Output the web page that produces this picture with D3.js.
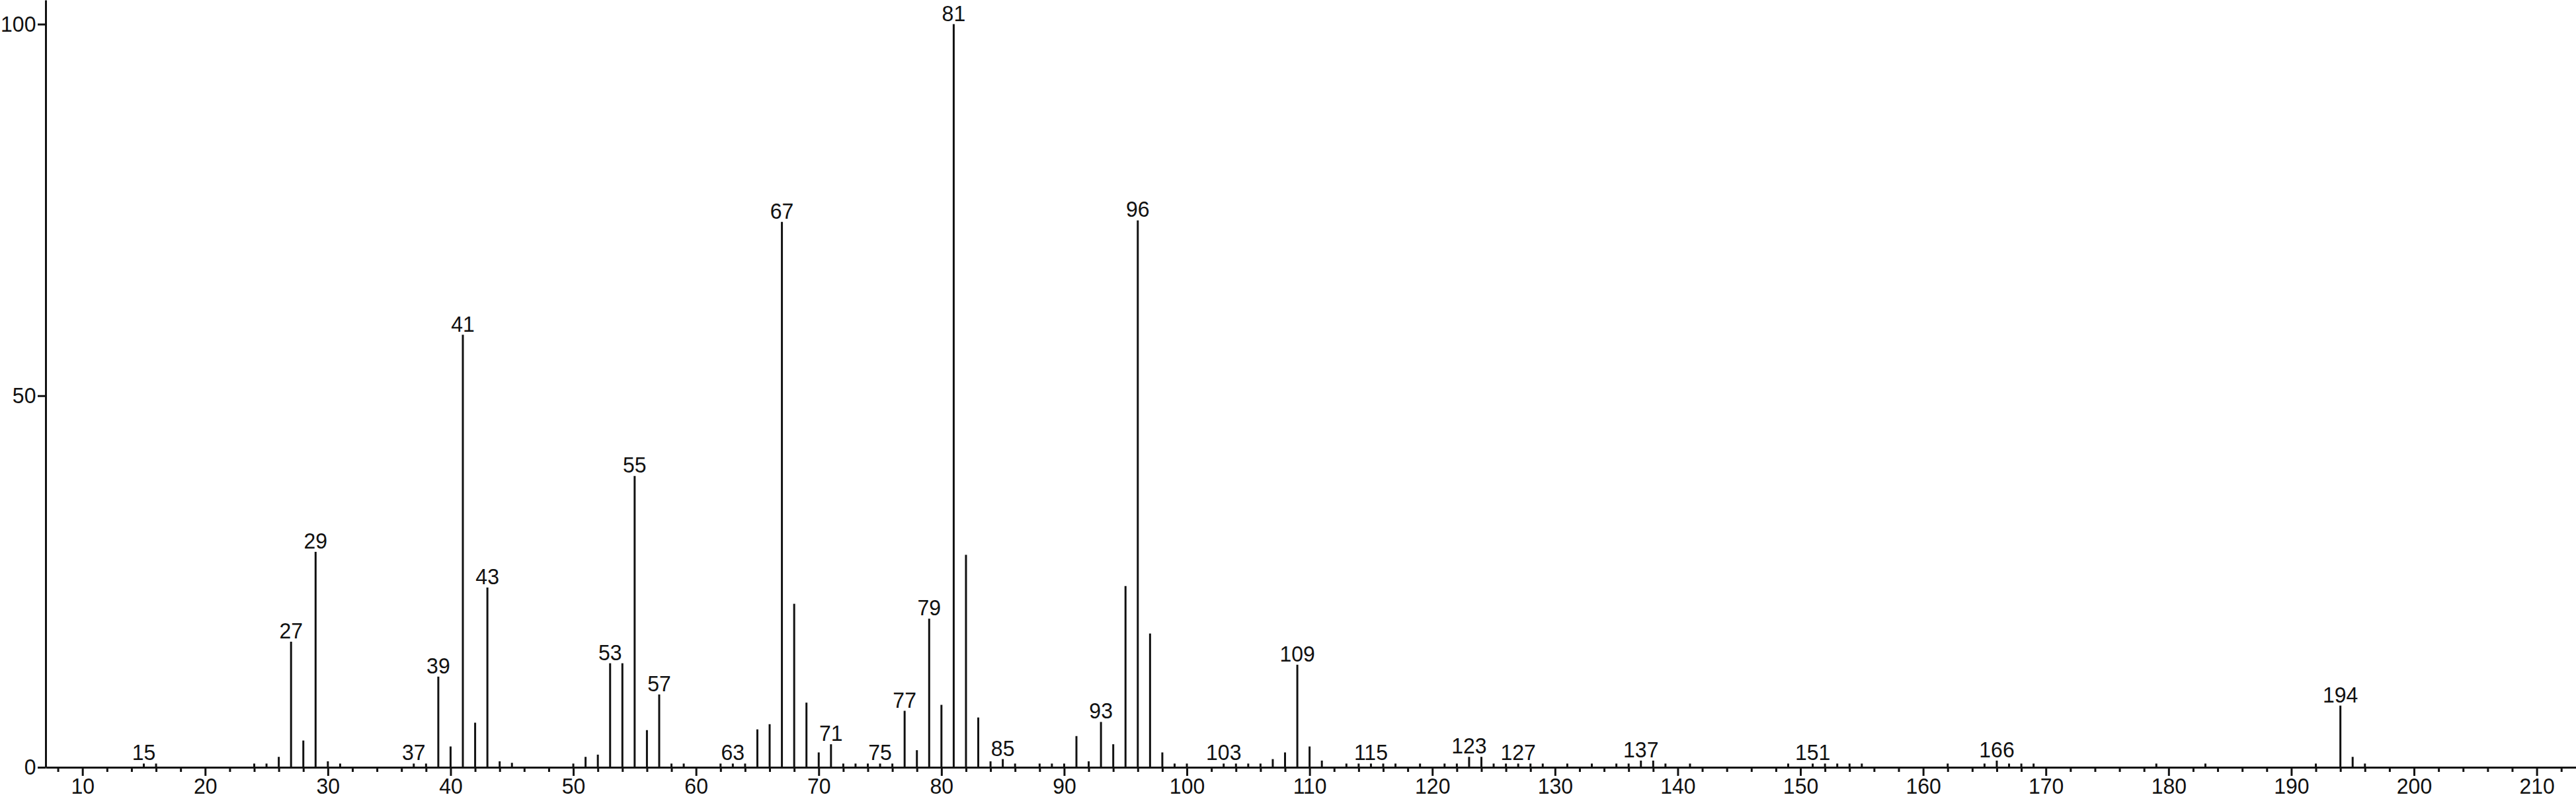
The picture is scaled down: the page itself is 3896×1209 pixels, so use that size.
<!DOCTYPE html>
<html>
<head>
<meta charset="utf-8">
<script src="https://cdn.jsdelivr.net/npm/d3@7"></script>
<style>
    html, body { margin: 0; padding: 0; background: #fff; overflow: hidden; }
    svg text { font-family: "Liberation Sans", Arial, sans-serif; fill: #111; }
</style>
</head>
<body>
<div id="spectrum"></div>
<script>
// m/z values and relative intensities
let masses = [15, 16, 24, 25, 26, 27, 28, 29, 30, 31, 37, 38, 39, 40, 41, 42, 43, 44, 45,
    50, 51, 52, 53, 54, 55, 56, 57, 58, 59, 62, 63, 64, 65, 66, 67, 68, 69, 70, 71, 72,
    73, 74, 75, 76, 77, 78, 79, 80, 81, 82, 83, 84, 85, 86, 88, 89, 90, 91, 92, 93, 94,
    95, 96, 97, 98, 99, 100, 103, 104, 105, 106, 107, 108, 109, 110, 111, 113, 114, 115,
    116, 117, 119, 121, 122, 123, 124, 125, 126, 127, 128, 129, 131, 133, 135, 136, 137,
    138, 139, 141, 149, 151, 152, 153, 154, 155, 162, 165, 166, 167, 168, 169, 179, 183,
    192, 194, 195, 196];
let intensities = [0.5, 0.5, 0.5, 0.5, 1.4, 16.9, 3.6, 29.0, 0.8, 0.5, 0.5, 0.5, 12.2, 2.8, 58.2, 6.0, 24.2, 0.8, 0.6,
    0.5, 1.4, 1.7, 14.0, 14.0, 39.2, 5.0, 9.8, 0.5, 0.5, 0.5, 0.5, 0.5, 5.1, 5.8, 73.4, 22.0, 8.7, 2.0, 3.1, 0.5,
    0.5, 0.5, 0.5, 0.5, 7.6, 2.3, 20.0, 8.4, 100, 28.6, 6.7, 0.8, 1.1, 0.5, 0.5, 0.5, 0.5, 4.2, 0.8, 6.1, 3.1,
    24.4, 73.6, 18.0, 2.0, 0.5, 0.5, 0.5, 0.5, 0.5, 0.5, 1.1, 2.0, 13.8, 2.8, 0.9, 0.5, 0.5, 0.5,
    0.5, 0.5, 0.5, 0.5, 0.5, 1.4, 1.4, 0.5, 0.5, 0.5, 0.5, 0.5, 0.5, 0.5, 0.5, 0.5, 0.9,
    0.9, 0.5, 0.5, 0.5, 0.5, 0.5, 0.5, 0.5, 0.5, 0.5, 0.5, 0.9, 0.5, 0.5, 0.5, 0.5, 0.5,
    0.5, 8.3, 1.4, 0.5];

// peaks that carry their m/z as a label
let labelled = [15, 27, 29, 37, 39, 41, 43, 53, 55, 57, 63, 67, 71, 75, 77, 79, 81, 85,
    93, 96, 103, 109, 115, 123, 127, 137, 151, 166, 194];

let xTickLabels = [10, 20, 30, 40, 50, 60, 70, 80, 90, 100, 110, 120, 130, 140, 150,
    160, 170, 180, 190, 200, 210];
let yTickLabels = [0, 50, 100];

function render_spectrum(div) {
    let width = 3896, height = 1209;
    let squeeze = "scale(0.97,1)";

    let svg = d3.select("#" + div).append("svg")
        .attr("width", width)
        .attr("height", height);

    let x = d3.scaleLinear().domain([7, 213.2]).range([69, width]);
    let y = d3.scaleLinear().domain([0, 103.25]).range([1161, 0]);

    let peaks = masses.map(function (m, i) { return {mz: m, value: intensities[i]}; });

    // stick lines
    svg.append("g")
        .attr("class", "peaks")
        .selectAll("line")
        .data(peaks)
        .enter().append("line")
        .attr("x1", function (d) { return x(d.mz); })
        .attr("x2", function (d) { return x(d.mz); })
        .attr("y1", y(0))
        .attr("y2", function (d) { return y(d.value); })
        .attr("stroke", "#111")
        .attr("stroke-width", 3);

    // minor ticks on the even masses
    let minor = d3.range(8, 213, 2).filter(function (v) { return v % 10 !== 0; });
    svg.append("g")
        .attr("transform", "translate(0," + y(0) + ")")
        .call(d3.axisBottom(x).tickValues(minor).tickSize(7).tickSizeOuter(0).tickFormat(""))
        .call(function (g) { g.select(".domain").remove(); })
        .selectAll("line").attr("stroke", "#111").attr("stroke-width", 3);

    // major ticks with labels
    let xAxis = svg.append("g")
        .attr("transform", "translate(0," + y(0) + ")")
        .call(d3.axisBottom(x).tickValues(xTickLabels).tickSize(13).tickSizeOuter(0).tickPadding(4));
    xAxis.select(".domain").attr("stroke", "#111").attr("stroke-width", 3);
    xAxis.selectAll("line").attr("stroke", "#111").attr("stroke-width", 3);
    xAxis.selectAll("text")
        .attr("font-size", 33)
        .attr("fill", "#111")
        .attr("transform", squeeze);

    let yAxis = svg.append("g")
        .attr("transform", "translate(" + x(7) + ",0)")
        .call(d3.axisLeft(y).tickValues(yTickLabels).tickSize(12).tickSizeOuter(0).tickPadding(3));
    yAxis.select(".domain").attr("stroke", "#111").attr("stroke-width", 3);
    yAxis.selectAll("line").attr("stroke", "#111").attr("stroke-width", 3);
    yAxis.selectAll("text")
        .attr("font-size", 33)
        .attr("fill", "#111")
        .attr("transform", squeeze);

    // m/z annotations above the labelled peaks
    svg.append("g")
        .attr("class", "labels")
        .selectAll("g")
        .data(peaks.filter(function (d) { return labelled.includes(d.mz); }))
        .enter().append("g")
        .attr("transform", function (d) { return "translate(" + x(d.mz) + "," + (y(d.value) - 5) + ")"; })
        .append("text")
        .attr("text-anchor", "middle")
        .attr("font-size", 33)
        .attr("transform", squeeze)
        .text(function (d) { return d.mz; });
}

render_spectrum("spectrum");
</script>
</body>
</html>
